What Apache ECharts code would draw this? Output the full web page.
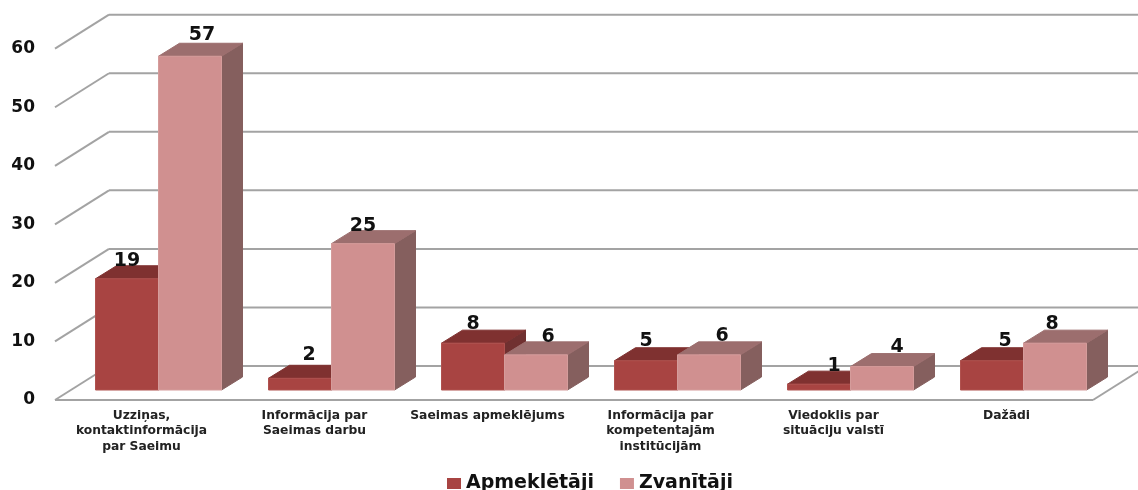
<!DOCTYPE html>
<html><head><meta charset="utf-8">
<style>html,body{margin:0;padding:0;background:#fff}#c{width:1138px;height:490px}</style>
<script src="https://cdn.jsdelivr.net/npm/echarts@6/dist/echarts.min.js"></script>
</head><body><div id="c"></div>
<script>
var categories = ['Uzziņas,\nkontaktinformācija\npar Saeimu','Informācija par\nSaeimas darbu','Saeimas apmeklējums','Informācija par\nkompetentajām\ninstitūcijām','Viedoklis par\nsituāciju valstī','Dažādi'];
var apmekletaji = [19,2,8,5,1,5];
var zvanitaji = [57,25,6,6,4,8];
var yTicks = [0,10,20,30,40,50,60];
var apmLabelShift = [[0,-18],[9,-23],[0,-19],[0,-20],[15,-18],[13,-20]];
var zvaLabelShift = [[12,-21],[0,-18],[12,-18],[13,-19],[15,-20],[-3,-19]];

var WALL = {dx:54, dy:-34};
var BAR = {ox:17, oy:-10, dx:21, dy:-13, w:63};
var GRID_COLOR = '#a3a3a3';

function gridItem(params, api){
  var v = api.value(0);
  var cs = params.coordSys;
  var p = api.coord([0, v]);
  var y = p[1], x0 = cs.x, x1 = cs.x + cs.width;
  var ls = {stroke:GRID_COLOR, lineWidth:2, fill:null};
  var kids = [
    {type:'line', shape:{x1:x0,y1:y,x2:x0+WALL.dx,y2:y+WALL.dy}, style:ls},
    {type:'line', shape:{x1:x0+WALL.dx,y1:y+WALL.dy,x2:x1+WALL.dx,y2:y+WALL.dy}, style:ls}
  ];
  if (v === 0) {
    kids.push({type:'line', shape:{x1:x0,y1:y,x2:x1,y2:y}, style:ls});
    kids.push({type:'line', shape:{x1:x1,y1:y,x2:x1+WALL.dx,y2:y+WALL.dy}, style:ls});
  }
  return {type:'group', children:kids};
}

function barRenderer(side, colors, shifts){
  return function(params, api){
    var i = api.value(0), v = api.value(1);
    var top = api.coord([i, v]), base = api.coord([i, 0]);
    var cx = top[0] + BAR.ox;
    var xl = side < 0 ? cx - BAR.w : cx, xr = xl + BAR.w;
    var yt = top[1] + BAR.oy, yb = base[1] + BAR.oy;
    var s = shifts[i];
    function st(fill, edge){ return {fill:fill, stroke:edge, lineWidth:1, opacity:1}; }
    return {type:'group', children:[
      {type:'polygon', shape:{points:[[xr,yt],[xr+BAR.dx,yt+BAR.dy],[xr+BAR.dx,yb+BAR.dy],[xr,yb]]}, style:st(colors.side, colors.side)},
      {type:'polygon', shape:{points:[[xl,yt],[xl+BAR.dx,yt+BAR.dy],[xr+BAR.dx,yt+BAR.dy],[xr,yt]]}, style:st(colors.top, colors.top)},
      {type:'rect', shape:{x:xl,y:yt,width:BAR.w,height:yb-yt}, style:st(colors.front, colors.edge)},
      {type:'text', x:(xl+xr)/2+s[0], y:yt+s[1], z2:50, style:{text:String(v), fill:'#111', font:'bold 19px "DejaVu Sans"', align:'center', verticalAlign:'middle'}}
    ]};
  };
}

var RED = {front:'#a84442', top:'#7f3130', side:'#703030', edge:'#b0524f'};
var PINK = {front:'#d09090', top:'#9c6e6e', side:'#855f5e', edge:'#d59c9b'};

var chart = echarts.init(document.getElementById('c'), null, {renderer:'canvas'});
chart.setOption({
  animation:false,
  backgroundColor:'#fff',
  grid:{left:55, width:1038, top:48.7, height:351.3, containLabel:false},
  legend:{
    left:447, top:474, padding:0, itemWidth:14, itemHeight:11, itemGap:26,
    textStyle:{fontSize:19, fontWeight:'bold', fontFamily:'DejaVu Sans', color:'#111'},
    data:[{name:'Apmeklētāji',icon:'rect',itemStyle:{color:RED.front}},{name:'Zvanītāji',icon:'rect',itemStyle:{color:PINK.front}}]
  },
  xAxis:{type:'category', data:categories, axisLine:{show:false}, axisTick:{show:false}, splitLine:{show:false},
    axisLabel:{interval:0, margin:8, color:'#222', fontFamily:'DejaVu Sans', fontWeight:'bold', fontSize:12.3, lineHeight:15.5}},
  yAxis:{type:'value', min:0, max:60, interval:10, axisLine:{show:false}, axisTick:{show:false}, splitLine:{show:false},
    axisLabel:{margin:20, color:'#111', fontFamily:'DejaVu Sans', fontWeight:'bold', fontSize:17, padding:[3,0,0,0]}},
  series:[
    {type:'custom', name:'grid', silent:true, clip:false, z:1, encode:{x:-1,y:0}, data:yTicks.map(function(t){return [t];}), renderItem:gridItem},
    {type:'custom', name:'Apmeklētāji', clip:false, z:2, itemStyle:{color:RED.front}, encode:{x:0,y:1},
      data:apmekletaji.map(function(v,i){return [i,v];}), renderItem:barRenderer(-1,RED,apmLabelShift)},
    {type:'custom', name:'Zvanītāji', clip:false, z:3, itemStyle:{color:PINK.front}, encode:{x:0,y:1},
      data:zvanitaji.map(function(v,i){return [i,v];}), renderItem:barRenderer(1,PINK,zvaLabelShift)}
  ]
});
</script></body></html>
